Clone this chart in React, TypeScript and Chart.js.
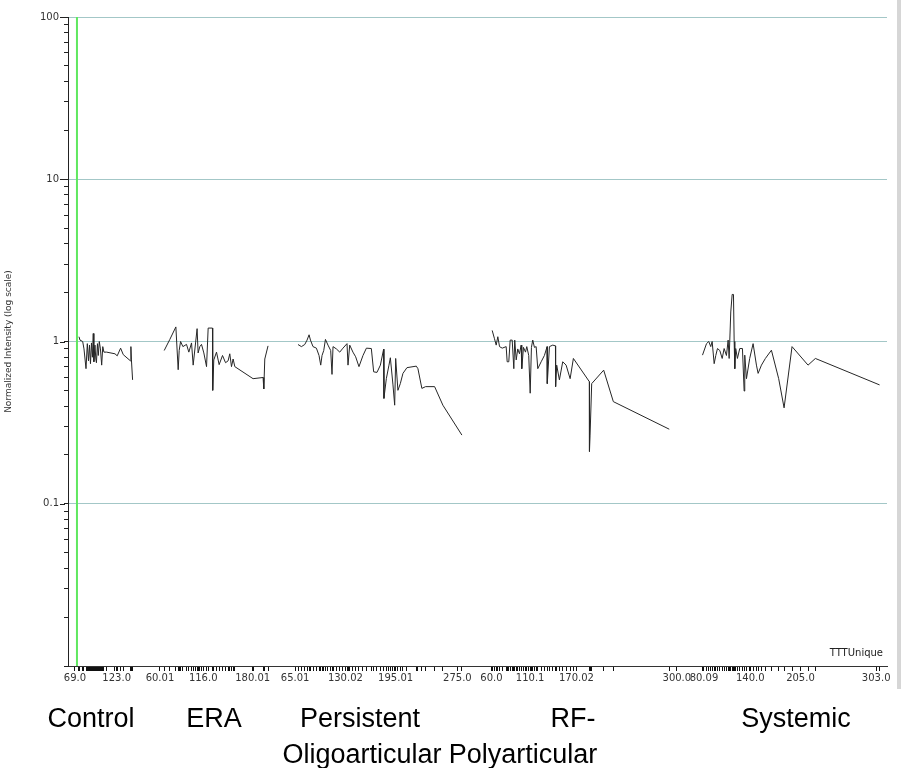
import React, { useEffect, useRef } from "react";
import { Chart, registerables } from "chart.js";

Chart.register(...registerables);

// ---------------- data ----------------
const groupLabelLines: string[][] = [
  ["Control"],
  ["ERA"],
  ["Persistent", "Oligoarticular"],
  ["RF-", "Polyarticular"],
  ["Systemic"],
];

// TTTUnique domain of each group's sub-axis
const groupDomains: number[][] = [
  [69, 147],
  [60, 203],
  [65, 287],
  [60, 300],
  [80, 303],
];

// labelled ticks of each group's sub-axis
const groupTickLabels: string[][] = [
  ["69.0", "123.0"],
  ["60.01", "116.0", "180.01"],
  ["65.01", "130.02", "195.01", "275.0"],
  ["60.0", "110.1", "170.02", "300.0"],
  ["80.09", "140.0", "205.0", "303.0"],
];

const controlTTT = [74.2, 75.5, 79.0, 80.7, 83.3, 85.0, 86.5, 87.8, 89.1, 90.4, 91.6, 92.7, 93.5, 94.9, 96.0, 96.8, 98.1, 99.2, 100.5, 102.0, 103.6, 105.0, 106.5, 110.0, 120.8, 123.7, 128.1, 131.5, 140.8, 141.4, 142.1, 143.6];
const controlIntensity = [1.07, 1.02, 1.0, 0.9, 0.68, 0.97, 0.76, 0.95, 0.73, 0.98, 0.8, 1.12, 0.75, 0.95, 0.78, 0.74, 0.97, 0.82, 1.0, 0.9, 0.715, 0.93, 0.86, 0.86, 0.84, 0.816, 0.91, 0.83, 0.76, 0.93, 0.77, 0.58];

const eraTTT = [65.5, 72.8, 80.6, 83.6, 84.9, 86.7, 89.7, 94.4, 97.4, 100.9, 103.0, 106.1, 108.1, 109.4, 111.6, 113.8, 116.8, 120.3, 122.4, 128.0, 128.3, 129.7, 133.2, 136.6, 141.0, 144.9, 148.2, 150.4, 152.6, 154.7, 156.9, 180.5, 193.5, 194.4, 195.7, 199.9];
const eraIntensity = [0.88, 1.03, 1.23, 0.67, 0.88, 1.0, 0.93, 0.96, 0.86, 0.98, 0.715, 0.98, 1.2, 0.85, 0.93, 0.96, 0.85, 0.7, 1.21, 1.21, 0.5, 0.77, 0.86, 0.72, 0.82, 0.74, 0.76, 0.84, 0.7, 0.78, 0.7, 0.59, 0.6, 0.51, 0.78, 0.94];

const persistentTTT = [68.7, 73.1, 77.4, 80.4, 83.0, 84.8, 88.1, 92.5, 95.9, 98.1, 99.8, 102.0, 104.2, 107.5, 111.0, 112.7, 114.0, 118.4, 122.7, 126.9, 132.1, 133.4, 135.6, 139.8, 143.3, 147.6, 152.8, 157.2, 163.6, 166.6, 170.9, 175.3, 179.5, 179.9, 183.0, 186.4, 188.2, 191.6, 193.8, 195.1, 198.0, 201.1, 204.5, 209.7, 221.8, 223.9, 229.0, 233.8, 245.5, 256.2, 280.8];
const persistentIntensity = [0.958, 0.93, 0.958, 1.02, 1.1, 1.02, 0.93, 0.91, 0.82, 0.715, 0.82, 0.88, 1.03, 0.95, 0.88, 0.627, 0.93, 0.9, 0.86, 0.91, 0.97, 0.715, 0.95, 0.86, 0.805, 0.7, 0.82, 0.91, 0.905, 0.65, 0.645, 0.715, 0.897, 0.446, 0.59, 0.715, 0.794, 0.54, 0.405, 0.786, 0.5, 0.55, 0.636, 0.69, 0.705, 0.68, 0.514, 0.527, 0.527, 0.405, 0.265];

const rfTTT = [61.0, 64.0, 66.2, 68.3, 70.5, 74.0, 79.1, 80.4, 82.5, 84.3, 86.9, 89.0, 90.2, 92.1, 94.1, 96.3, 98.5, 99.3, 101.5, 104.1, 105.8, 108.3, 110.2, 111.8, 113.5, 115.7, 117.9, 120.0, 124.4, 128.6, 132.1, 132.3, 135.1, 139.4, 142.9, 143.1, 144.5, 148.0, 152.3, 156.7, 161.9, 166.1, 186.8, 186.9, 187.7, 189.8, 205.3, 217.8, 290.2];
const rfIntensity = [1.17, 1.04, 0.95, 1.07, 0.93, 0.91, 0.93, 0.75, 0.75, 1.02, 1.02, 0.68, 1.02, 0.77, 0.9, 0.84, 0.95, 0.68, 0.92, 0.86, 0.93, 0.82, 0.48, 0.92, 1.02, 0.92, 0.93, 0.68, 0.75, 0.82, 0.93, 0.55, 0.93, 0.95, 0.94, 0.527, 0.715, 0.58, 0.75, 0.715, 0.59, 0.786, 0.565, 0.21, 0.265, 0.55, 0.666, 0.426, 0.288];

const systemicTTT = [78.2, 83.4, 86.3, 88.9, 90.7, 93.3, 95.4, 97.6, 100.6, 103.7, 106.2, 109.2, 111.4, 112.7, 114.8, 116.6, 118.3, 119.2, 120.0, 121.2, 123.4, 126.4, 129.9, 132.1, 132.9, 135.1, 139.3, 143.7, 148.0, 150.2, 154.5, 159.6, 167.4, 176.8, 183.8, 194.1, 214.8, 224.3, 307.4];
const systemicIntensity = [0.824, 0.97, 1.0, 0.93, 1.0, 0.73, 0.82, 0.905, 0.88, 0.786, 0.905, 0.82, 1.02, 0.786, 1.52, 1.95, 1.95, 1.0, 0.68, 0.905, 0.786, 0.905, 0.905, 0.495, 0.824, 0.59, 0.786, 0.97, 0.715, 0.636, 0.715, 0.786, 0.884, 0.59, 0.39, 0.93, 0.715, 0.786, 0.54];

// green reference marker (Control group, TTTUnique)
const markerGroup = 0;
const markerTTT = 71.6;

const yMajorValues = [0.1, 1, 10, 100];
const yMajorLabels = ["0.1", "1", "10", "100"];
const yMin = 0.01;
const yMax = 100;

const seriesTTT = [controlTTT, eraTTT, persistentTTT, rfTTT, systemicTTT];
const seriesIntensity = [controlIntensity, eraIntensity, persistentIntensity, rfIntensity, systemicIntensity];

// ---------------- layout of the grouped x axis ----------------
const LEFT_PAD = 9;
const GROUP_GAPS = [32, 32, 32, 35];
const AXIS_MAX = 1060;

const groupOffsets: number[] = (() => {
  const offs: number[] = [];
  let cursor = LEFT_PAD;
  groupDomains.forEach(([lo, hi], g) => {
    offs.push(cursor - lo);
    cursor += hi - lo + (GROUP_GAPS[g] ?? 0);
  });
  return offs;
})();

const xLabelMap = new Map<number, string>();
const xTickPositions: number[] = [];
groupTickLabels.forEach((labels, g) => {
  labels.forEach((s) => {
    const p = groupOffsets[g] + parseFloat(s);
    xLabelMap.set(p, s);
    xTickPositions.push(p);
  });
});
seriesTTT.forEach((arr, g) => {
  arr.forEach((t) => xTickPositions.push(groupOffsets[g] + t));
});

const yTickValues: number[] = [];
for (let e = -2; e <= 2; e++) {
  for (let m = 1; m <= 9; m++) {
    const v = Number((m * Math.pow(10, e)).toPrecision(3));
    if (v <= yMax) yTickValues.push(v);
  }
}
const isMajor = (v: number) => yMajorValues.some((m) => Math.abs(m - v) < m * 1e-6);

const GRID = "#a3c7c7";
const SANS = "'DejaVu Sans', sans-serif";

const decorPlugin = {
  id: "decor",
  beforeDatasetsDraw(chart: any) {
    const { ctx, chartArea, scales } = chart;
    const x = scales.x.getPixelForValue(groupOffsets[markerGroup] + markerTTT);
    ctx.save();
    ctx.strokeStyle = "#5fe85f";
    ctx.lineWidth = 2;
    ctx.beginPath();
    ctx.moveTo(x, chartArea.top);
    ctx.lineTo(x, chartArea.bottom);
    ctx.stroke();
    ctx.restore();
  },
  afterDraw(chart: any) {
    const { ctx, chartArea, scales } = chart;
    ctx.save();
    // longer major ticks on the y axis
    ctx.strokeStyle = "#222";
    ctx.lineWidth = 1;
    yMajorValues.forEach((v) => {
      const y = Math.round(scales.y.getPixelForValue(v)) + 0.5;
      ctx.beginPath();
      ctx.moveTo(chartArea.left - 8, y);
      ctx.lineTo(chartArea.left - 3, y);
      ctx.stroke();
    });
    // axis name
    ctx.fillStyle = "#222";
    ctx.font = `10px ${SANS}`;
    ctx.textAlign = "right";
    ctx.textBaseline = "alphabetic";
    ctx.fillText("TTTUnique", chartArea.right - 4, chartArea.bottom - 10);
    // group labels
    const centers = [91, 214, 360, 573, 796];
    const line2Centers = [91, 214, 362, 523, 796];
    ctx.fillStyle = "#000";
    ctx.font = "27px 'Liberation Sans', Arial, sans-serif";
    ctx.textAlign = "center";
    groupLabelLines.forEach((lines, g) => {
      lines.forEach((s, i) => {
        ctx.fillText(s, i === 0 ? centers[g] : line2Centers[g], 727 + i * 36);
      });
    });
    ctx.restore();
  },
};

export default function App() {
  const ref = useRef<HTMLCanvasElement | null>(null);

  useEffect(() => {
    if (!ref.current) return;
    const datasets = seriesTTT.map((arr, g) => ({
      label: groupLabelLines[g].join(" "),
      data: arr.map((t, i) => ({ x: groupOffsets[g] + t, y: seriesIntensity[g][i] })),
      borderColor: "#262626",
      borderWidth: 1,
      pointRadius: 0,
      tension: 0,
      fill: false,
    }));

    const chart = new Chart(ref.current, {
      type: "line",
      data: { datasets },
      plugins: [decorPlugin],
      options: {
        animation: false,
        responsive: false,
        devicePixelRatio: 1,
        layout: { padding: { top: 17, right: 20, left: 0, bottom: 0 } },
        plugins: { legend: { display: false }, tooltip: { enabled: false } },
        scales: {
          x: {
            type: "linear",
            min: 0,
            max: AXIS_MAX,
            afterBuildTicks: (scale: any) => {
              scale.ticks = xTickPositions.map((v) => ({ value: v }));
            },
            afterFit: (scale: any) => {
              scale.height = 102;
            },
            grid: { drawOnChartArea: false, drawTicks: true, tickLength: 5, tickColor: "#111" },
            border: { display: true, color: "#333", width: 1 },
            ticks: {
              autoSkip: false,
              maxRotation: 0,
              minRotation: 0,
              padding: 1,
              color: "#333",
              font: { family: SANS, size: 10 },
              callback: (value: any) => xLabelMap.get(Number(value)) ?? "",
            },
          },
          y: {
            type: "logarithmic",
            min: yMin,
            max: yMax,
            afterBuildTicks: (scale: any) => {
              scale.ticks = yTickValues.map((v) => ({ value: v, major: isMajor(v) }));
            },
            afterFit: (scale: any) => {
              scale.width = 68;
            },
            grid: {
              drawTicks: true,
              tickLength: 4,
              tickColor: "#222",
              color: (c: any) => (c.tick && isMajor(c.tick.value) ? GRID : "rgba(0,0,0,0)"),
            },
            border: { display: true, color: "#222", width: 1 },
            title: {
              display: true,
              text: "Normalized Intensity (log scale)",
              color: "#333",
              font: { family: SANS, size: 9 },
              padding: { top: 3, bottom: 0 },
            },
            ticks: {
              autoSkip: false,
              padding: 5,
              color: "#333",
              font: { family: SANS, size: 10 },
              callback: (value: any) => {
                const v = Number(value);
                const i = yMajorValues.findIndex((m) => Math.abs(m - v) < m * 1e-6);
                return i >= 0 ? yMajorLabels[i] : "";
              },
            },
          },
        },
      },
    });
    return () => chart.destroy();
  }, []);

  return (
    <div style={{ position: "absolute", left: 0, top: 0, width: 907, height: 768, background: "#fff" }}>
      <canvas ref={ref} width={907} height={768} style={{ display: "block" }} />
      <div style={{ position: "absolute", left: 897, top: 0, width: 4, height: 689, background: "#d6d6d6" }} />
    </div>
  );
}
